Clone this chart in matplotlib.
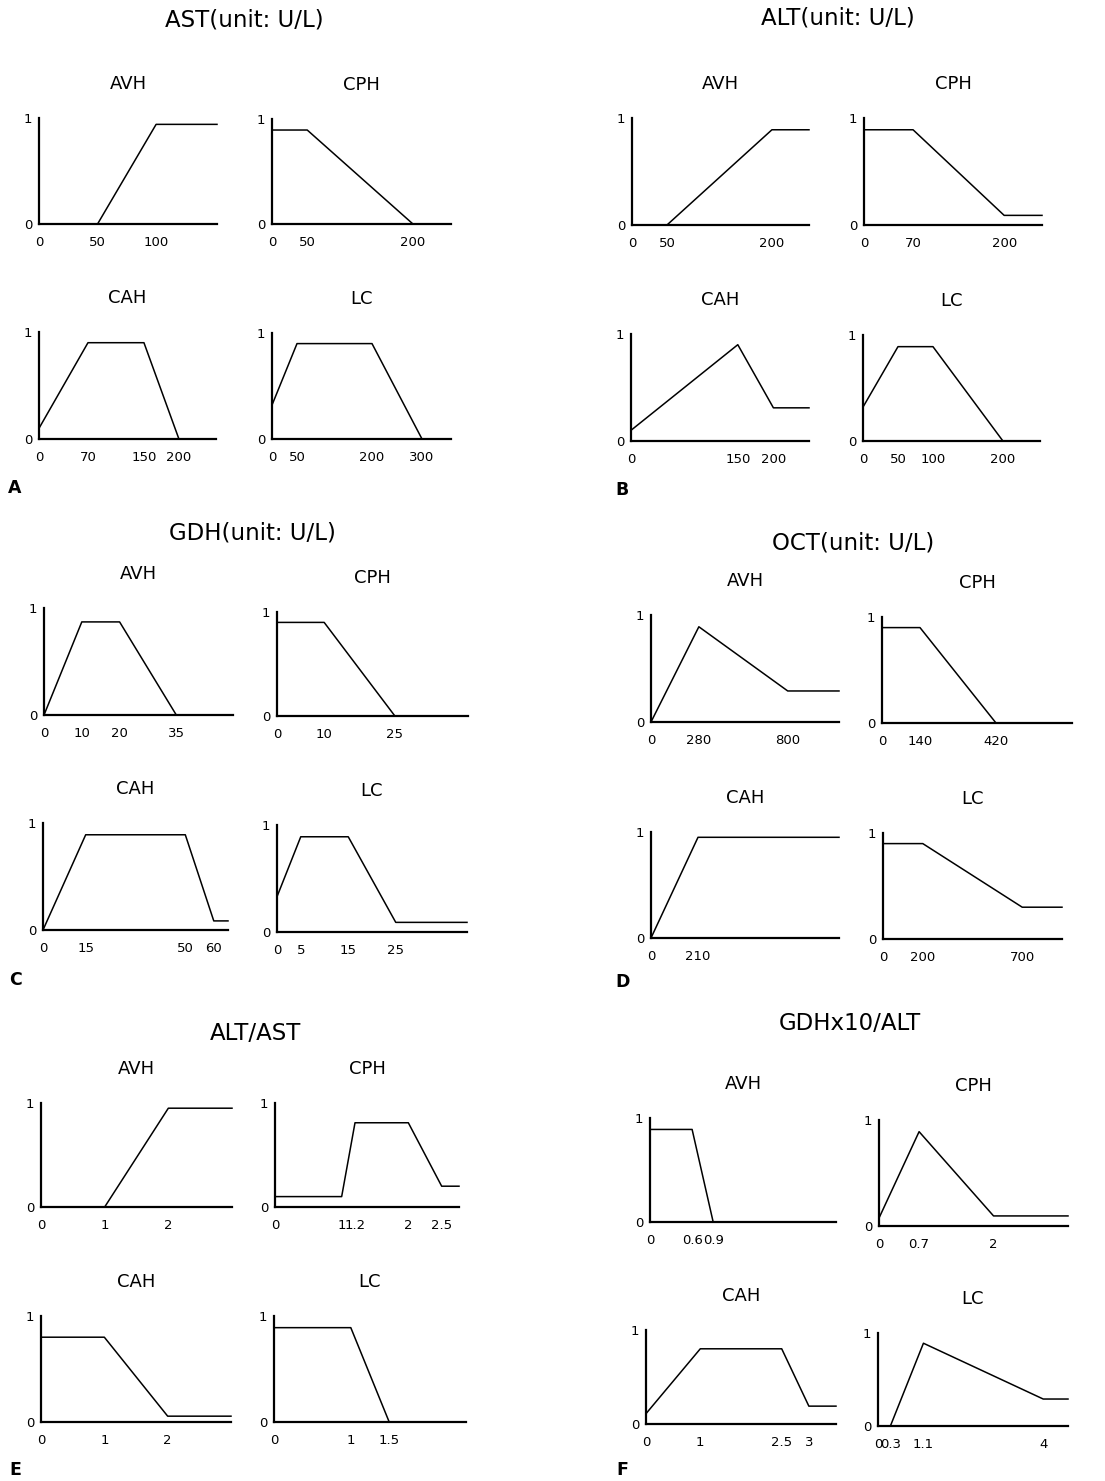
import matplotlib
matplotlib.use("Agg")
import matplotlib.pyplot as plt

plt.rcParams["font.family"] = ["DejaVu Sans"]

W, H = 1105, 1481
panel_names = ["AVH", "CPH", "CAH", "LC"]

# membership functions, panel order AVH, CPH, CAH, LC
ast_x = [[0, 50, 100, 152], [0, 50, 200, 254], [0, 70, 150, 200, 253], [0, 50, 200, 300, 358]]
ast_y = [[0, 0, 0.94, 0.94], [0.895, 0.895, 0, 0], [0.1, 0.9, 0.9, 0, 0], [0.32, 0.9, 0.9, 0, 0]]
ast_ticks = [[0, 50, 100], [0, 50, 200], [0, 70, 150, 200], [0, 50, 200, 300]]

alt_x = [[0, 50, 200, 253], [0, 70, 200, 254], [0, 150, 200, 250], [0, 50, 100, 200, 253]]
alt_y = [[0, 0, 0.89, 0.89], [0.89, 0.89, 0.09, 0.09], [0.1, 0.9, 0.31, 0.31], [0.32, 0.89, 0.89, 0, 0]]
alt_ticks = [[0, 50, 200], [0, 70, 200], [0, 150, 200], [0, 50, 100, 200]]

gdh_x = [[0, 10, 20, 35, 50], [0, 10, 25, 40.5], [0, 15, 50, 60, 65], [0, 5, 15, 25, 40]]
gdh_y = [[0, 0.87, 0.87, 0, 0], [0.9, 0.9, 0, 0], [0, 0.89, 0.89, 0.085, 0.085], [0.33, 0.89, 0.89, 0.09, 0.09]]
gdh_ticks = [[0, 10, 20, 35], [0, 10, 25], [0, 15, 50, 60], [0, 5, 15, 25]]

oct_x = [[0, 280, 800, 1100], [0, 140, 420, 700], [0, 210, 840], [0, 200, 700, 900]]
oct_y = [[0, 0.89, 0.29, 0.29], [0.9, 0.9, 0, 0], [0, 0.95, 0.95], [0.9, 0.9, 0.3, 0.3]]
oct_ticks = [[0, 280, 800], [0, 140, 420], [0, 210], [0, 200, 700]]

ratio_x = [[0, 1, 2, 3], [0, 1, 1.2, 2, 2.5, 2.76], [0, 1, 2, 3], [0, 1, 1.5, 2.5]]
ratio_y = [[0, 0, 0.95, 0.95], [0.1, 0.1, 0.81, 0.81, 0.2, 0.2], [0.8, 0.8, 0.055, 0.055], [0.89, 0.89, 0, 0]]
ratio_ticks = [[0, 1, 2], [0, 1, 1.2, 2, 2.5], [0, 1, 2], [0, 1, 1.5]]

gdhalt_x = [[0, 0.6, 0.9, 2.65], [0, 0.7, 2, 3.3], [0, 1, 2.5, 3, 3.5], [0, 0.3, 1.1, 4, 4.6]]
gdhalt_y = [[0.89, 0.89, 0, 0], [0.075, 0.89, 0.095, 0.095], [0.11, 0.8, 0.8, 0.19, 0.19], [0, 0, 0.89, 0.29, 0.29]]
gdhalt_ticks = [[0, 0.6, 0.9], [0, 0.7, 2], [0, 1, 2.5, 3], [0, 0.3, 1.1, 4]]

# layout in pixels: (left, right, top, baseline) of each panel
boxes_a = [(39, 217, 118, 224), (272, 451, 119, 224), (39, 216, 332, 439), (272, 451, 333, 439)]
boxes_b = [(632, 809, 118, 225), (864, 1042, 118, 225), (631, 809, 334, 441), (863, 1040, 335, 441)]
boxes_c = [(44, 233, 608, 715), (277, 468, 612, 716), (43, 228, 823, 930), (277, 467, 825, 932)]
boxes_d = [(651, 839, 615, 722), (882, 1072, 617, 723), (651, 839, 832, 938), (883, 1062, 833, 939)]
boxes_e = [(41, 232, 1103, 1207), (275, 459, 1103, 1207), (41, 231, 1316, 1422), (274, 466, 1316, 1422)]
boxes_f = [(650, 836, 1118, 1222), (879, 1068, 1120, 1226), (646, 836, 1330, 1424), (878, 1068, 1333, 1426)]

fig = plt.figure(figsize=(W / 100, H / 100), dpi=100)


def draw_group(boxes, xs, ys, ticks, title, title_xy, letter, letter_xy):
    for name, (x0, x1, yt, yb), px, py, tk in zip(panel_names, boxes, xs, ys, ticks):
        ax = fig.add_axes([x0 / W, 1 - yb / H, (x1 - x0) / W, (yb - yt) / H])
        ax.plot(px, py, color="black", lw=1.1, clip_on=False)
        ax.set_xlim(0, px[-1])
        ax.set_ylim(0, 1)
        for s in ["top", "right"]:
            ax.spines[s].set_visible(False)
        for s in ["left", "bottom"]:
            ax.spines[s].set_linewidth(1.6)
        ax.set_xticks(tk)
        ax.set_xticklabels([f"{t:g}" for t in tk])
        ax.set_yticks([0, 1])
        ax.set_yticklabels(["0", "1"])
        ax.tick_params(axis="x", length=0, labelsize=9.5, pad=8.5)
        ax.tick_params(axis="y", length=0, labelsize=9.5, pad=5)
        ax.set_facecolor("none")
        ax.set_title(name, fontsize=13, pad=21)
    fig.text(title_xy[0] / W, 1 - title_xy[1] / H, title, ha="center", va="center", fontsize=16.5)
    fig.text(letter_xy[0] / W, 1 - letter_xy[1] / H, letter, ha="center", va="center",
             fontsize=12.5, fontweight="bold")


draw_group(boxes_a, ast_x, ast_y, ast_ticks, "AST(unit: U/L)", (244, 20), "A", (15, 488))
draw_group(boxes_b, alt_x, alt_y, alt_ticks, "ALT(unit: U/L)", (838, 18), "B", (622, 490))
draw_group(boxes_c, gdh_x, gdh_y, gdh_ticks, "GDH(unit: U/L)", (252, 533), "C", (15, 980))
draw_group(boxes_d, oct_x, oct_y, oct_ticks, "OCT(unit: U/L)", (853, 543), "D", (623, 982))
draw_group(boxes_e, ratio_x, ratio_y, ratio_ticks, "ALT/AST", (255, 1033), "E", (15, 1470))
draw_group(boxes_f, gdhalt_x, gdhalt_y, gdhalt_ticks, "GDHx10/ALT", (850, 1023), "F", (622, 1470))

fig.savefig("out.png", dpi=100)
